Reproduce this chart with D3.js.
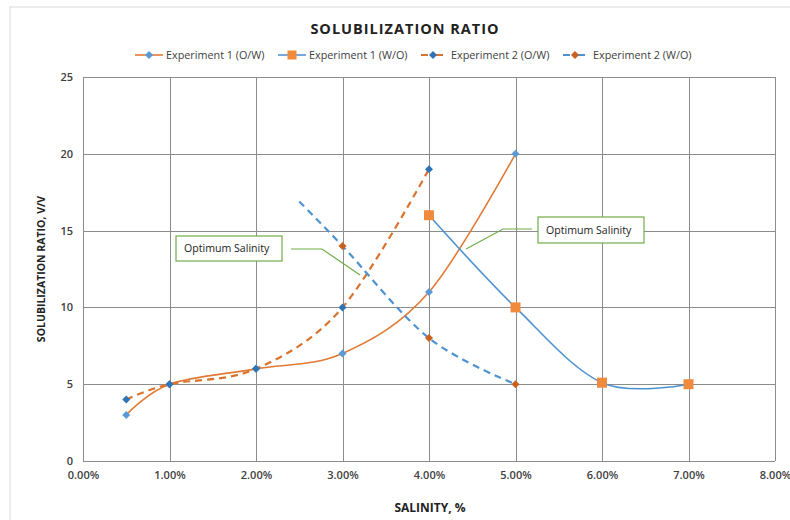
<!DOCTYPE html>
<html>
<head>
<meta charset="utf-8">
<script src="https://cdn.jsdelivr.net/npm/d3@7"></script>
<style>
  body { margin: 0; background: #fff; }
  text { font-family: "Open Sans", "Liberation Sans", sans-serif; }
</style>
</head>
<body>
<svg id="chart" width="790" height="520"></svg>
<script>
// salinity (%) and solubilization ratio (V/V)
const exp1OW_x = [0.5, 1, 2, 3, 4, 5];
const exp1OW_y = [3, 5, 6, 7, 11, 20];
const exp1WO_x = [4, 5, 6, 7];
const exp1WO_y = [16, 10, 5.1, 5];
const exp2OW_x = [0.5, 1, 2, 3, 4];
const exp2OW_y = [4, 5, 6, 10, 19];
const exp2WO_x = [2.5, 3, 4, 5];
const exp2WO_y = [16.9, 14, 8, 5];
const exp2WO_marked = [false, true, true, true];

const xTicks = [0, 1, 2, 3, 4, 5, 6, 7, 8];
const yTicks = [0, 5, 10, 15, 20, 25];

const series = [
  { name: "Experiment 1 (O/W)", xs: exp1OW_x, ys: exp1OW_y, line: "#E07A35", dash: null, marker: "diamond", mcolor: "#5B9BD5" },
  { name: "Experiment 1 (W/O)", xs: exp1WO_x, ys: exp1WO_y, line: "#4E93D1", dash: null, marker: "square", mcolor: "#F08A3C" },
  { name: "Experiment 2 (O/W)", xs: exp2OW_x, ys: exp2OW_y, line: "#D9732E", dash: "7,5", marker: "diamond", mcolor: "#2F74B5" },
  { name: "Experiment 2 (W/O)", xs: exp2WO_x, ys: exp2WO_y, line: "#4E93D1", dash: "7,5", marker: "diamond", mcolor: "#C8601E", marked: exp2WO_marked }
];

const svg = d3.select("#chart");
const margin = { top: 77, right: 15, bottom: 59, left: 83 };
const width = 790, height = 520;

const x = d3.scaleLinear().domain([0, 8]).range([margin.left, width - margin.right]);
const y = d3.scaleLinear().domain([0, 25]).range([height - margin.bottom, margin.top]);

// outer chart frame
svg.append("rect")
  .attr("x", 10).attr("y", 7)
  .attr("width", 800).attr("height", 530)
  .attr("fill", "none")
  .attr("stroke", "#d9d9d9");

// title
svg.append("text")
  .attr("x", 405).attr("y", 34)
  .attr("text-anchor", "middle")
  .attr("font-size", 14.5).attr("font-weight", 700)
  .attr("letter-spacing", "1px")
  .attr("fill", "#222")
  .text("SOLUBILIZATION  RATIO");

// grid
const grid = svg.append("g").attr("stroke", "#8c8c8c").attr("stroke-width", 1);
grid.selectAll(".gy")
  .data(yTicks)
  .join("line")
  .attr("x1", x(0)).attr("x2", x(8))
  .attr("y1", d => Math.round(y(d)) + 0.5).attr("y2", d => Math.round(y(d)) + 0.5);
grid.selectAll(".gx")
  .data(xTicks)
  .join("line")
  .attr("y1", y(0)).attr("y2", y(25))
  .attr("x1", d => Math.round(x(d)) + 0.5).attr("x2", d => Math.round(x(d)) + 0.5);

// axes (labels only)
const yAxis = svg.append("g")
  .attr("transform", `translate(${margin.left - 4},0)`)
  .call(d3.axisLeft(y).tickValues(yTicks).tickSize(0).tickPadding(6))
  .call(g => g.select(".domain").remove());
yAxis.selectAll("text")
  .attr("font-size", 11).attr("font-weight", 600).attr("fill", "#404040")
  .attr("font-family", "'Open Sans', sans-serif");

const xAxis = svg.append("g")
  .attr("transform", `translate(0,${height - margin.bottom + 4})`)
  .call(d3.axisBottom(x).tickValues(xTicks).tickSize(0).tickPadding(6)
    .tickFormat(d => d3.format(".2f")(d) + "%"))
  .call(g => g.select(".domain").remove());
xAxis.selectAll("text")
  .attr("font-size", 11).attr("font-weight", 600).attr("fill", "#404040")
  .attr("font-family", "'Open Sans', sans-serif");

// axis titles
svg.append("text")
  .attr("transform", `translate(45,${(y(0) + y(25)) / 2}) rotate(-90)`)
  .attr("text-anchor", "middle")
  .attr("font-size", 10.5).attr("font-weight", 700).attr("fill", "#222")
  .text("SOLUBILIZATION RATIO, V/V");

svg.append("text")
  .attr("x", 430).attr("y", 512)
  .attr("text-anchor", "middle")
  .attr("font-size", 12).attr("font-weight", 700).attr("fill", "#222")
  .text("SALINITY, %");

// series
const line = d3.line()
  .x(d => x(d[0])).y(d => y(d[1]))
  .curve(d3.curveCardinal.tension(0));

const marker = (sel, type, color, size) => {
  if (type === "square") {
    sel.append("rect")
      .attr("x", -size / 2).attr("y", -size / 2)
      .attr("width", size).attr("height", size)
      .attr("fill", color);
  } else {
    sel.append("path")
      .attr("d", `M0,${-size / 2}L${size / 2},0L0,${size / 2}L${-size / 2},0Z`)
      .attr("fill", color);
  }
};

const plot = svg.append("g");
series.forEach(s => {
  const pts = s.xs.map((v, i) => [v, s.ys[i]]);
  plot.append("path")
    .attr("d", line(pts))
    .attr("fill", "none")
    .attr("stroke", s.line)
    .attr("stroke-width", s.dash ? 2.2 : 1.6)
    .attr("stroke-dasharray", s.dash);
});
series.forEach(s => {
  const pts = s.xs.map((v, i) => [v, s.ys[i]]).filter((d, i) => !s.marked || s.marked[i]);
  const g = plot.selectAll(null)
    .data(pts)
    .join("g")
    .attr("transform", d => `translate(${x(d[0])},${y(d[1])})`);
  g.each(function () {
    marker(d3.select(this), s.marker, s.mcolor, s.marker === "square" ? 10 : 8);
  });
});

// legend
const legendX = [135, 278, 421, 563];
const legend = svg.append("g").attr("transform", "translate(0,55)");
series.forEach((s, i) => {
  const g = legend.append("g").attr("transform", `translate(${legendX[i]},0)`);
  if (s.dash) {
    g.append("line").attr("x1", 0).attr("x2", 7).attr("stroke", s.line).attr("stroke-width", 2);
    g.append("line").attr("x1", 15).attr("x2", 22).attr("stroke", s.line).attr("stroke-width", 2);
  } else {
    g.append("line").attr("x1", 0).attr("x2", 28).attr("stroke", s.line).attr("stroke-width", 1.6);
  }
  const m = g.append("g").attr("transform", `translate(${s.dash ? 12 : 14},0)`);
  marker(m, s.marker, s.mcolor, s.marker === "square" ? 9 : 8);
  g.append("text")
    .attr("x", s.dash ? 30 : 31).attr("y", 0)
    .attr("dy", "0.35em")
    .attr("font-size", 10.8).attr("fill", "#404040")
    .text(s.name);
});

// callouts
const callouts = [
  { box: [176, 236, 106, 25], leader: [[291, 249], [322, 249], [360, 275]] },
  { box: [538, 217, 106, 26], leader: [[532, 229], [503, 229], [466, 249]] }
];
callouts.forEach(c => {
  svg.append("polyline")
    .attr("points", c.leader.map(p => p.join(",")).join(" "))
    .attr("fill", "none")
    .attr("stroke", "#70AD47")
    .attr("stroke-width", 1.2);
  svg.append("rect")
    .attr("x", c.box[0]).attr("y", c.box[1])
    .attr("width", c.box[2]).attr("height", c.box[3])
    .attr("fill", "#fff")
    .attr("stroke", "#70AD47")
    .attr("stroke-width", 1.2);
  svg.append("text")
    .attr("x", c.box[0] + 8).attr("y", c.box[1] + c.box[3] / 2)
    .attr("dy", "0.35em")
    .attr("font-size", 10.6).attr("fill", "#222")
    .text("Optimum Salinity");
});
</script>
</body>
</html>
